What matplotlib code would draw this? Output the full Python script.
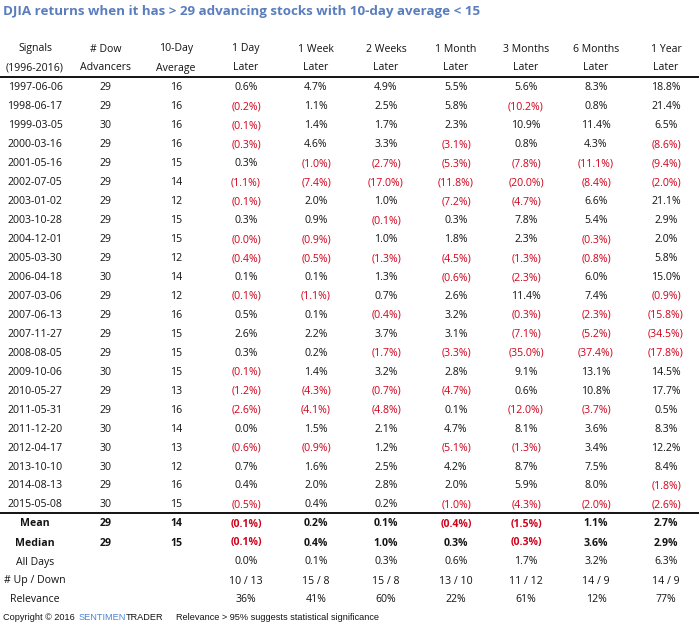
import math
import matplotlib
matplotlib.use("Agg")
import matplotlib.pyplot as plt

title = "DJIA returns when it has > 29 advancing stocks with 10-day average < 15"

header_top = ["Signals", "# Dow", "10-Day", "1 Day", "1 Week", "2 Weeks",
              "1 Month", "3 Months", "6 Months", "1 Year"]
header_bot = ["(1996-2016)", "Advancers", "Average", "Later", "Later", "Later",
              "Later", "Later", "Later", "Later"]

dates = ["1997-06-06", "1998-06-17", "1999-03-05", "2000-03-16", "2001-05-16",
         "2002-07-05", "2003-01-02", "2003-10-28", "2004-12-01", "2005-03-30",
         "2006-04-18", "2007-03-06", "2007-06-13", "2007-11-27", "2008-08-05",
         "2009-10-06", "2010-05-27", "2011-05-31", "2011-12-20", "2012-04-17",
         "2013-10-10", "2014-08-13", "2015-05-08"]
advancers = [29, 29, 30, 29, 29, 29, 29, 29, 29, 29, 30, 29, 29, 29, 29, 30,
             29, 29, 30, 30, 30, 29, 30]
avg10 = [16, 16, 16, 16, 15, 14, 12, 15, 15, 12, 14, 12, 16, 15, 15, 15,
         13, 16, 14, 13, 12, 16, 15]

day1 = [0.6, -0.2, -0.1, -0.3, 0.3, -1.1, -0.1, 0.3, -0.0, -0.4, 0.1, -0.1,
        0.5, 2.6, 0.3, -0.1, -1.2, -2.6, 0.0, -0.6, 0.7, 0.4, -0.5]
week1 = [4.7, 1.1, 1.4, 4.6, -1.0, -7.4, 2.0, 0.9, -0.9, -0.5, 0.1, -1.1,
         0.1, 2.2, 0.2, 1.4, -4.3, -4.1, 1.5, -0.9, 1.6, 2.0, 0.4]
week2 = [4.9, 2.5, 1.7, 3.3, -2.7, -17.0, 1.0, -0.1, 1.0, -1.3, 1.3, 0.7,
         -0.4, 3.7, -1.7, 3.2, -0.7, -4.8, 2.1, 1.2, 2.5, 2.8, 0.2]
month1 = [5.5, 5.8, 2.3, -3.1, -5.3, -11.8, -7.2, 0.3, 1.8, -4.5, -0.6, 2.6,
          3.2, 3.1, -3.3, 2.8, -4.7, 0.1, 4.7, -5.1, 4.2, 2.0, -1.0]
month3 = [5.6, -10.2, 10.9, 0.8, -7.8, -20.0, -4.7, 7.8, 2.3, -1.3, -2.3, 11.4,
          -0.3, -7.1, -35.0, 9.1, 0.6, -12.0, 8.1, -1.3, 8.7, 5.9, -4.3]
month6 = [8.3, 0.8, 11.4, 4.3, -11.1, -8.4, 6.6, 5.4, -0.3, -0.8, 6.0, 7.4,
          -2.3, -5.2, -37.4, 13.1, 10.8, -3.7, 3.6, 3.4, 7.5, 8.0, -2.0]
year1 = [18.8, 21.4, 6.5, -8.6, -9.4, -2.0, 21.1, 2.9, 2.0, 5.8, 15.0, -0.9,
         -15.8, -34.5, -17.8, 14.5, 17.7, 0.5, 8.3, 12.2, 8.4, -1.8, -2.6]
returns = [day1, week1, week2, month1, month3, month6, year1]

mean_row = [-0.1, 0.2, 0.1, -0.4, -1.5, 1.1, 2.7]
median_row = [-0.1, 0.4, 1.0, 0.3, -0.3, 3.6, 2.9]
alldays_row = [0.0, 0.1, 0.3, 0.6, 1.7, 3.2, 6.3]
updown_row = ["10 / 13", "15 / 8", "15 / 8", "13 / 10", "11 / 12", "14 / 9", "14 / 9"]
relevance_row = [36, 41, 60, 22, 61, 12, 77]
mean_adv, mean_avg = 29, 14
median_adv, median_avg = 29, 15

RED = "#d0021b"
INK = "#141414"
FONT = "Open Sans"
FS = 7.6

col_x = [35, 106, 176, 246, 316, 386, 456, 526, 596, 666]
row0, dy = 88, 18.95


def fmt(v):
    if math.copysign(1, v) < 0:
        return "(%.1f%%)" % abs(v), RED
    return "%.1f%%" % v, INK


fig = plt.figure(figsize=(6.99, 6.28), dpi=100)
ax = fig.add_axes([0, 0, 1, 1])
ax.set_xlim(0, 699)
ax.set_ylim(628, 0)
ax.axis("off")

ax.text(3, 11, title, fontsize=9.6, fontweight="bold", color="#5a7dbd",
        family=FONT, ha="left", va="center")

for x, a, b in zip(col_x, header_top, header_bot):
    ax.text(x, 49, a, fontsize=FS, family=FONT, color=INK, ha="center", va="center")
    ax.text(x, 68, b, fontsize=FS, family=FONT, color=INK, ha="center", va="center")

ax.plot([0, 699], [77, 77], color="black", lw=1.3)

for i, d in enumerate(dates):
    y = row0 + i * dy
    ax.text(col_x[0], y, d, fontsize=FS, family=FONT, color=INK, ha="center", va="center")
    ax.text(col_x[1], y, str(advancers[i]), fontsize=FS, family=FONT, color=INK,
            ha="center", va="center")
    ax.text(col_x[2], y, str(avg10[i]), fontsize=FS, family=FONT, color=INK,
            ha="center", va="center")
    for j, col in enumerate(returns):
        s, c = fmt(col[i])
        ax.text(col_x[3 + j], y, s, fontsize=FS, family=FONT, color=c,
                ha="center", va="center")

line_y = row0 + (len(dates) - 0.55) * dy
ax.plot([0, 699], [line_y, line_y], color="black", lw=1.3)

sum_y = [524, 543, 562, 581, 600]

# Mean / Median (bold)
for y, lab, adv, avg, vals in [(sum_y[0], "Mean", mean_adv, mean_avg, mean_row),
                               (sum_y[1], "Median", median_adv, median_avg, median_row)]:
    ax.text(col_x[0], y, lab, fontsize=FS, family=FONT, fontweight="bold",
            color=INK, ha="center", va="center")
    ax.text(col_x[1], y, str(adv), fontsize=FS, family=FONT, fontweight="bold",
            color=INK, ha="center", va="center")
    ax.text(col_x[2], y, str(avg), fontsize=FS, family=FONT, fontweight="bold",
            color=INK, ha="center", va="center")
    for j, v in enumerate(vals):
        s, c = fmt(v)
        ax.text(col_x[3 + j], y, s, fontsize=FS, family=FONT, fontweight="bold",
                color=c, ha="center", va="center")

ax.text(col_x[0], sum_y[2], "All Days", fontsize=FS, family=FONT, color=INK,
        ha="center", va="center")
for j, v in enumerate(alldays_row):
    ax.text(col_x[3 + j], sum_y[2], "%.1f%%" % v, fontsize=FS, family=FONT,
            color=INK, ha="center", va="center")

ax.text(col_x[0], sum_y[3], "# Up / Down", fontsize=FS, family=FONT, color=INK,
        ha="center", va="center")
for j, v in enumerate(updown_row):
    ax.text(col_x[3 + j], sum_y[3], v, fontsize=FS, family=FONT,
            color=INK, ha="center", va="center")

ax.text(col_x[0], sum_y[4], "Relevance", fontsize=FS, family=FONT, color=INK,
        ha="center", va="center")
for j, v in enumerate(relevance_row):
    ax.text(col_x[3 + j], sum_y[4], "%d%%" % v, fontsize=FS, family=FONT,
            color=INK, ha="center", va="center")

# footer
FF = "Liberation Sans"
t1 = ax.text(3, 617, "Copyright \u00a9 2016 ", fontsize=6.6, family=FF, color=INK,
             ha="left", va="center")
fig.canvas.draw()
r = fig.canvas.get_renderer()
inv = ax.transData.inverted()
x = inv.transform((t1.get_window_extent(r).x1, 0))[0] + 1
t2 = ax.text(x, 617, "SENTIMEN", fontsize=6.6, family=FF, color="#4a84d4",
             ha="left", va="center")
x = inv.transform((t2.get_window_extent(r).x1, 0))[0]
t3 = ax.text(x, 617, "TRADER", fontsize=6.6, family=FF, color=INK,
             ha="left", va="center")
x = inv.transform((t3.get_window_extent(r).x1, 0))[0] + 13
ax.text(x, 617, "Relevance > 95% suggests statistical significance", fontsize=6.6,
        family=FF, color=INK, ha="left", va="center")

fig.savefig("out.png", dpi=100)
